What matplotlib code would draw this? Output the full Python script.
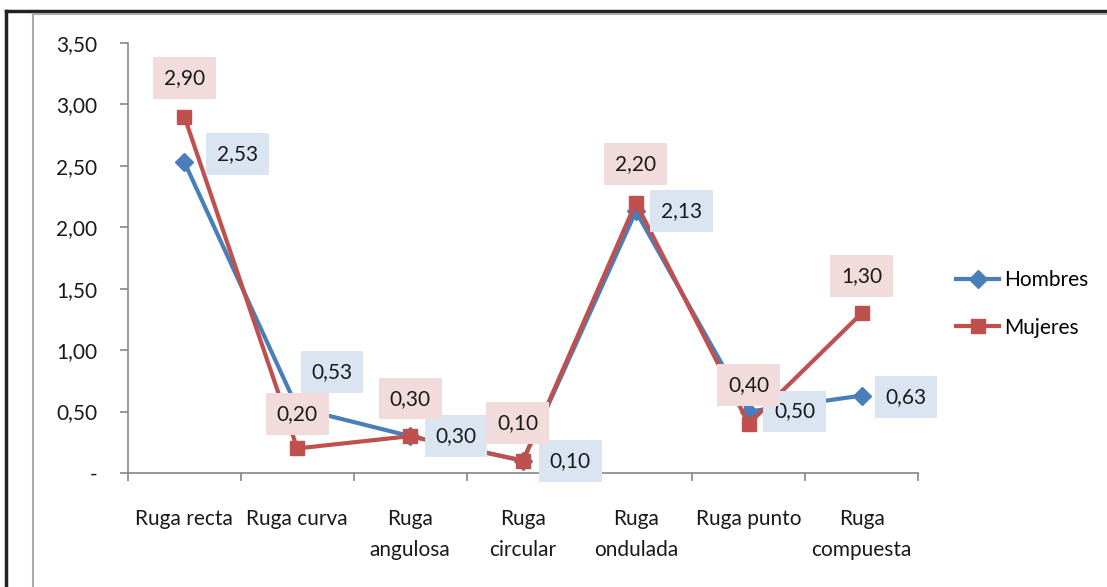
import matplotlib
matplotlib.use("Agg")
import numpy as np
from matplotlib import pyplot as plt
from matplotlib.lines import Line2D

categories = ["Ruga recta", "Ruga curva", "Ruga\nangulosa", "Ruga\ncircular",
              "Ruga\nondulada", "Ruga punto", "Ruga\ncompuesta"]
hombres = [2.53, 0.53, 0.30, 0.10, 2.13, 0.50, 0.63]
mujeres = [2.90, 0.20, 0.30, 0.10, 2.20, 0.40, 1.30]
yticks = [0, 0.5, 1.0, 1.5, 2.0, 2.5, 3.0, 3.5]
ytick_labels = ["-", "0,50", "1,00", "1,50", "2,00", "2,50", "3,00", "3,50"]

# label offsets (points) - hand placed like the excel chart
h_offsets = [(38, 6), (25, 26), (33, 0), (34, 0), (33, 0), (33, 0), (32, -1)]
m_offsets = [(0, 28), (0, 25), (0, 27), (-4, 27), (0, 28), (0, 28), (0, 27)]

BLUE = "#4a7ebb"
RED = "#c0504d"
BLUE_BOX = "#dbe5f1"
RED_BOX = "#f2dcdb"
GRID = "#868686"

plt.rcParams['font.family'] = ['Lato', 'DejaVu Sans']

fig = plt.figure(figsize=(11.07, 5.87), dpi=100)
ax = fig.add_axes([0.1156, 0.1942, 0.7137, 0.7325])

x = np.arange(len(categories))
ax.plot(x, hombres, color=BLUE, lw=3, marker="D", ms=9, zorder=3, label="Hombres")
ax.plot(x, mujeres, color=RED, lw=3, marker="s", ms=10, zorder=4, label="Mujeres")

def fmt(v):
    return "{:.2f}".format(v).replace(".", ",")

for xi, v, off in zip(x, hombres, h_offsets):
    ax.annotate(fmt(v), (xi, v), xytext=off, textcoords="offset points",
                ha="center", va="center", fontsize=15, color="#1a1a1a", zorder=6,
                bbox=dict(boxstyle="square,pad=0.52", fc=BLUE_BOX, ec="none"))
for xi, v, off in zip(x, mujeres, m_offsets):
    ax.annotate(fmt(v), (xi, v), xytext=off, textcoords="offset points",
                ha="center", va="center", fontsize=15, color="#1a1a1a", zorder=6,
                bbox=dict(boxstyle="square,pad=0.52", fc=RED_BOX, ec="none"))

ax.set_xlim(-0.5, len(categories) - 0.5)
ax.set_ylim(0, 3.5)
ax.set_yticks(yticks)
ax.set_yticklabels(ytick_labels)
ax.set_xticks(x)
ax.set_xticklabels(categories, linespacing=1.65)
ax.set_xticks(np.arange(len(categories) + 1) - 0.5, minor=True)
ax.tick_params(axis="x", which="major", length=0, pad=26, labelsize=15, colors="#1a1a1a")
ax.tick_params(axis="x", which="minor", length=6, width=1.2, color=GRID, direction="out")
ax.tick_params(axis="y", length=6, width=1.2, color=GRID, pad=16, labelsize=15,
               labelcolor="#1a1a1a")

for s in ["top", "right"]:
    ax.spines[s].set_visible(False)
for s in ["left", "bottom"]:
    ax.spines[s].set_color(GRID)
    ax.spines[s].set_linewidth(1.2)

ax.legend(loc="center left", bbox_to_anchor=(1.024, 0.393), frameon=False,
          fontsize=15, labelspacing=1.3, handlelength=2.1, handletextpad=0.2)

# outer frame lines
W, H = 1107.0, 587.0
fig.add_artist(Line2D([6 / W, 1], [1 - 11 / H, 1 - 11 / H], color="#222222", lw=2.5))
fig.add_artist(Line2D([6 / W, 6 / W], [0, 1 - 11 / H], color="#222222", lw=2.5))
fig.add_artist(Line2D([33 / W, 1], [1 - 14 / H, 1 - 14 / H], color="#aaaaaa", lw=1.5))
fig.add_artist(Line2D([33 / W, 33 / W], [0, 1 - 14 / H], color="#aaaaaa", lw=1.5))

fig.savefig("out.png", dpi=100)
